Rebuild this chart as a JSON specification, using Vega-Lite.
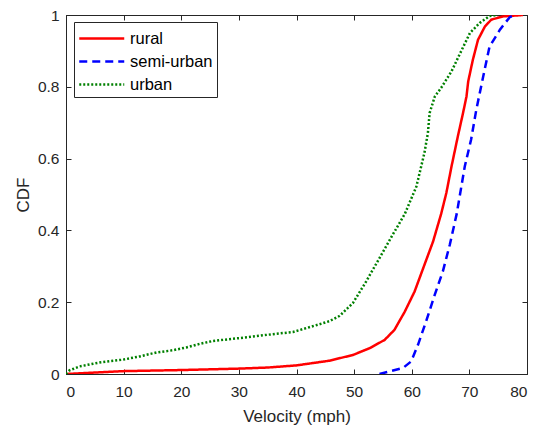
{
  "$schema": "https://vega.github.io/schema/vega-lite/v6.json",
  "width": 461,
  "height": 359,
  "autosize": "none",
  "padding": {"left": 66, "top": 15, "right": 12, "bottom": 56},
  "background": "white",
  "config": {
    "font": "Liberation Sans",
    "view": {"stroke": "#262626", "strokeWidth": 1}
  },
  "data": {
    "values": [
      {"series": "rural", "v": 0, "cdf": 0},
      {"series": "rural", "v": 10, "cdf": 0.008},
      {"series": "rural", "v": 20, "cdf": 0.011},
      {"series": "rural", "v": 30, "cdf": 0.015},
      {"series": "rural", "v": 35, "cdf": 0.018},
      {"series": "rural", "v": 40, "cdf": 0.024},
      {"series": "rural", "v": 45.7, "cdf": 0.037},
      {"series": "rural", "v": 49.8, "cdf": 0.053},
      {"series": "rural", "v": 52.7, "cdf": 0.072},
      {"series": "rural", "v": 55.3, "cdf": 0.095},
      {"series": "rural", "v": 57.0, "cdf": 0.123},
      {"series": "rural", "v": 58.8, "cdf": 0.174},
      {"series": "rural", "v": 60.5, "cdf": 0.23},
      {"series": "rural", "v": 62.2, "cdf": 0.304},
      {"series": "rural", "v": 63.7, "cdf": 0.369},
      {"series": "rural", "v": 65.1, "cdf": 0.446},
      {"series": "rural", "v": 66.0, "cdf": 0.504},
      {"series": "rural", "v": 66.9, "cdf": 0.578},
      {"series": "rural", "v": 68.0, "cdf": 0.662},
      {"series": "rural", "v": 68.9, "cdf": 0.727},
      {"series": "rural", "v": 69.5, "cdf": 0.773},
      {"series": "rural", "v": 69.8, "cdf": 0.815},
      {"series": "rural", "v": 70.6, "cdf": 0.875},
      {"series": "rural", "v": 71.5, "cdf": 0.931},
      {"series": "rural", "v": 72.7, "cdf": 0.968},
      {"series": "rural", "v": 73.8, "cdf": 0.987},
      {"series": "rural", "v": 75.8, "cdf": 0.996},
      {"series": "rural", "v": 79.3, "cdf": 1.0},
      {"series": "semi-urban", "v": 54.4, "cdf": 0},
      {"series": "semi-urban", "v": 58.5, "cdf": 0.017},
      {"series": "semi-urban", "v": 59.9, "cdf": 0.035},
      {"series": "semi-urban", "v": 61.1, "cdf": 0.082},
      {"series": "semi-urban", "v": 62.5, "cdf": 0.147},
      {"series": "semi-urban", "v": 64.0, "cdf": 0.221},
      {"series": "semi-urban", "v": 65.4, "cdf": 0.286},
      {"series": "semi-urban", "v": 66.6, "cdf": 0.36},
      {"series": "semi-urban", "v": 67.8, "cdf": 0.446},
      {"series": "semi-urban", "v": 69.2, "cdf": 0.578},
      {"series": "semi-urban", "v": 70.3, "cdf": 0.653},
      {"series": "semi-urban", "v": 71.2, "cdf": 0.736},
      {"series": "semi-urban", "v": 72.4, "cdf": 0.829},
      {"series": "semi-urban", "v": 73.5, "cdf": 0.912},
      {"series": "semi-urban", "v": 75.3, "cdf": 0.959},
      {"series": "semi-urban", "v": 77.0, "cdf": 0.994},
      {"series": "semi-urban", "v": 77.9, "cdf": 1.0},
      {"series": "urban", "v": 0, "cdf": 0},
      {"series": "urban", "v": 0.6, "cdf": 0.01},
      {"series": "urban", "v": 2.3, "cdf": 0.021},
      {"series": "urban", "v": 5.8, "cdf": 0.032},
      {"series": "urban", "v": 9.9, "cdf": 0.04},
      {"series": "urban", "v": 12.8, "cdf": 0.049},
      {"series": "urban", "v": 15.7, "cdf": 0.06},
      {"series": "urban", "v": 18.5, "cdf": 0.066},
      {"series": "urban", "v": 20.9, "cdf": 0.074},
      {"series": "urban", "v": 23.2, "cdf": 0.084},
      {"series": "urban", "v": 25.5, "cdf": 0.092},
      {"series": "urban", "v": 30.1, "cdf": 0.1},
      {"series": "urban", "v": 35.9, "cdf": 0.111},
      {"series": "urban", "v": 39.4, "cdf": 0.117},
      {"series": "urban", "v": 42.8, "cdf": 0.133},
      {"series": "urban", "v": 45.7, "cdf": 0.147},
      {"series": "urban", "v": 47.5, "cdf": 0.162},
      {"series": "urban", "v": 49.8, "cdf": 0.198},
      {"series": "urban", "v": 52.1, "cdf": 0.258},
      {"series": "urban", "v": 54.4, "cdf": 0.323},
      {"series": "urban", "v": 56.7, "cdf": 0.388},
      {"series": "urban", "v": 58.8, "cdf": 0.446},
      {"series": "urban", "v": 60.8, "cdf": 0.522},
      {"series": "urban", "v": 62.2, "cdf": 0.616},
      {"series": "urban", "v": 62.8, "cdf": 0.671},
      {"series": "urban", "v": 63.1, "cdf": 0.727},
      {"series": "urban", "v": 64.0, "cdf": 0.773},
      {"series": "urban", "v": 65.1, "cdf": 0.797},
      {"series": "urban", "v": 66.9, "cdf": 0.843},
      {"series": "urban", "v": 68.3, "cdf": 0.89},
      {"series": "urban", "v": 70.1, "cdf": 0.95},
      {"series": "urban", "v": 71.8, "cdf": 0.978},
      {"series": "urban", "v": 73.5, "cdf": 0.997},
      {"series": "urban", "v": 74.9, "cdf": 1.0}
    ]
  },
  "layer": [
    {
      "mark": {"type": "line", "strokeWidth": 2.5, "clip": true},
      "encoding": {
        "x": {
          "field": "v", "type": "quantitative",
          "scale": {"domain": [0, 80], "nice": false, "zero": false},
          "axis": {"orient": "bottom", "values": [0,10,20,30,40,50,60,70,80], "format": "d", "grid": false,
                   "tickSize": -5, "labelPadding": 15, "labelFontSize": 15.5, "labelColor": "#262626", "labelFont": "Liberation Sans",
                   "domainColor": "#262626", "tickColor": "#262626",
                   "title": "Velocity (mph)", "titleFontSize": 17, "titleFontWeight": "normal", "titleColor": "#262626", "titleFont": "Liberation Sans", "titlePadding": 9}
        },
        "y": {
          "field": "cdf", "type": "quantitative",
          "scale": {"domain": [0, 1], "nice": false},
          "axis": {"orient": "left", "values": [0,0.2,0.4,0.6,0.8,1], "format": "~g", "grid": false,
                   "tickSize": -5, "labelPadding": 12, "labelFontSize": 15.5, "labelColor": "#262626", "labelFont": "Liberation Sans",
                   "domainColor": "#262626", "tickColor": "#262626",
                   "title": "CDF", "titleFontSize": 17, "titleFontWeight": "normal", "titleColor": "#262626", "titleFont": "Liberation Sans", "titlePadding": 5}
        },
        "color": {
          "field": "series", "type": "nominal",
          "scale": {"domain": ["rural", "semi-urban", "urban"], "range": ["#ff0000", "#0000ff", "#008000"]},
          "legend": {
            "title": null, "orient": "none", "legendX": 8, "legendY": 7,
            "symbolType": "M-1,0H3", "symbolSize": 506, "symbolStrokeWidth": 2.5,
            "labelFontSize": 16.5, "labelFont": "Liberation Sans", "labelColor": "#000000",
            "strokeColor": "#262626", "fillColor": "white", "padding": 4,
            "rowPadding": 2, "labelOffset": 27, "cornerRadius": 0
          }
        },
        "strokeDash": {
          "field": "series", "type": "nominal",
          "scale": {"domain": ["rural", "semi-urban", "urban"], "range": [[1, 0], [8, 5], [2, 2]]},
          "legend": {
            "title": null, "orient": "none", "legendX": 8, "legendY": 7,
            "symbolType": "M-1,0H3", "symbolSize": 506, "symbolStrokeWidth": 2.5,
            "labelFontSize": 16.5, "labelFont": "Liberation Sans", "labelColor": "#000000",
            "strokeColor": "#262626", "fillColor": "white", "padding": 4,
            "rowPadding": 2, "labelOffset": 27, "cornerRadius": 0
          }
        }
      }
    },
    {
      "mark": {"type": "line", "opacity": 0},
      "encoding": {
        "x": {"field": "v", "type": "quantitative", "axis": {"orient": "top", "values": [0,10,20,30,40,50,60,70,80], "labels": false, "grid": false, "tickSize": -5, "tickColor": "#262626", "title": null, "domain": false}},
        "y": {"field": "cdf", "type": "quantitative", "axis": {"orient": "right", "values": [0,0.2,0.4,0.6,0.8,1], "labels": false, "grid": false, "tickSize": -5, "tickColor": "#262626", "title": null, "domain": false}}
      }
    }
  ],
  "resolve": {"axis": {"x": "independent", "y": "independent"}}
}
